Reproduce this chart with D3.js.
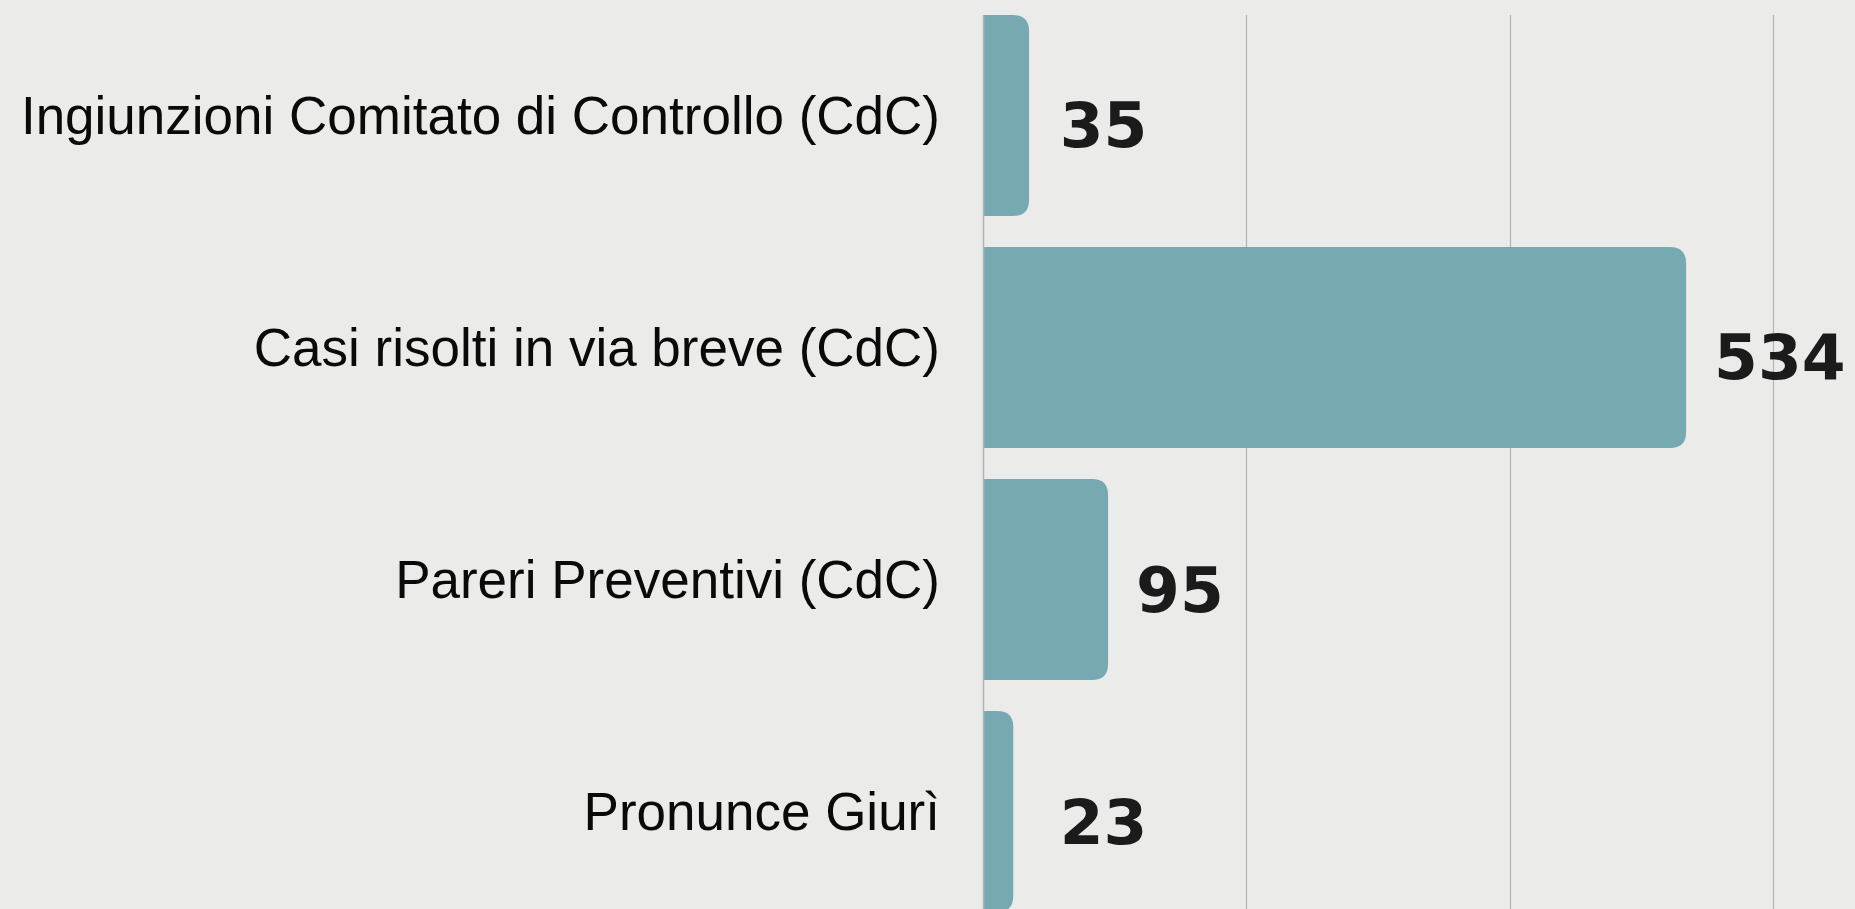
<!doctype html>
<html lang="it">
<head>
    <meta charset="UTF-8">
    <title>Comitato di Controllo / Giurì</title>
    <script src="https://cdn.jsdelivr.net/npm/d3@7"></script>
    <style>
        html, body { margin: 0; padding: 0; background: #ebebe9; overflow: hidden; }
        svg { display: block; }
    </style>
</head>
<body>
<script>
    var categories = [
        "Ingiunzioni Comitato di Controllo (CdC)",
        "Casi risolti in via breve (CdC)",
        "Pareri Preventivi (CdC)",
        "Pronunce Giurì"
    ];
    var values = [35, 534, 95, 23];
    var gridTicks = [200, 400, 600];

    var width = 1855;
    var height = 909;
    var marginLeft = 983;
    var marginTop = 15;

    var data = categories.map(function (c, i) { return {name: c, value: values[i]}; });

    // 1 unit ~ 1.317px, 600 lands at ~1773
    var x = d3.scaleLinear().domain([0, 600]).range([marginLeft, marginLeft + 790]);
    var y = d3.scaleBand().domain(categories)
        .range([marginTop, marginTop + 897]).paddingInner(0.134).paddingOuter(0);

    var svg = d3.select("body").append("svg")
        .attr("width", width).attr("height", height);

    // grid
    svg.append("g").selectAll("line")
        .data(gridTicks)
        .enter().append("line")
        .attr("x1", function (d) { return Math.round(x(d)) + 0.5; })
        .attr("x2", function (d) { return Math.round(x(d)) + 0.5; })
        .attr("y1", marginTop).attr("y2", height + 10)
        .attr("stroke", "#b3b3b1").attr("stroke-width", 1.2);

    // bars, rounded on the right end only
    var r = 16;
    function barPath(d) {
        var x0 = x(0), x1 = x(d.value), y0 = y(d.name), h = y.bandwidth();
        var rr = Math.min(r, (x1 - x0));
        return "M" + x0 + "," + y0 +
            "H" + (x1 - rr) +
            "Q" + x1 + "," + y0 + " " + x1 + "," + (y0 + rr) +
            "V" + (y0 + h - rr) +
            "Q" + x1 + "," + (y0 + h) + " " + (x1 - rr) + "," + (y0 + h) +
            "H" + x0 + "Z";
    }
    svg.append("g").selectAll("path")
        .data(data)
        .enter().append("path")
        .attr("d", barPath)
        .attr("fill", "#77a9b3");

    // axis line
    svg.append("line")
        .attr("x1", marginLeft + 0.5).attr("x2", marginLeft + 0.5)
        .attr("y1", marginTop).attr("y2", height + 10)
        .attr("stroke", "#b3b3b1").attr("stroke-width", 1.5);

    // category labels
    svg.append("g").selectAll("text")
        .data(data)
        .enter().append("text")
        .attr("x", marginLeft - 43)
        .attr("y", function (d) { return y(d.name) + y.bandwidth() / 2 + 18.5; })
        .attr("text-anchor", "end")
        .attr("font-family", "'Liberation Sans', Arial, sans-serif")
        .attr("font-size", "53px")
        .attr("fill", "#0a0a0a")
        .text(function (d) { return d.name; });

    // value labels
    svg.append("g").selectAll("text")
        .data(data)
        .enter().append("text")
        .attr("x", function (d) { return Math.max(x(d.value), x(37)) + 28; })
        .attr("y", function (d) { return y(d.name) + y.bandwidth() / 2 + 32; })
        .attr("font-family", "'DejaVu Sans', sans-serif")
        .attr("font-weight", "bold")
        .attr("font-size", "63px")
        .attr("fill", "#1b1b1b")
        .text(function (d) { return d.value; });
</script>
</body>
</html>
